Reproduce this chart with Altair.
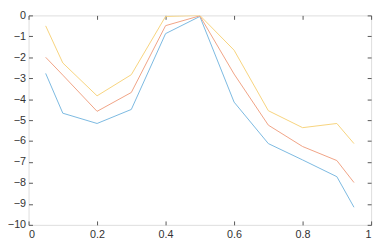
import altair as alt
import pandas as pd

xs = [0.05, 0.1, 0.2, 0.3, 0.4, 0.5, 0.6, 0.7, 0.8, 0.9, 0.95]
blue = [-2.77, -4.67, -5.16, -4.49, -0.87, -0.05, -4.14, -6.12, -6.9, -7.7, -9.16]
orange = [-2.0, -2.85, -4.58, -3.68, -0.49, -0.02, -2.8, -5.24, -6.26, -6.93, -7.98]
yellow = [-0.5, -2.27, -3.84, -2.83, -0.05, 0.0, -1.66, -4.55, -5.36, -5.16, -6.12]

series_names = ["s1", "s2", "s3"]
series_colors = ["#7ab8e0", "#f0a283", "#f7d37c"]

rows = []
for name, vals in zip(series_names, [blue, orange, yellow]):
    for x, v in zip(xs, vals):
        rows.append({"x": x, "y": v, "s": name})
df = pd.DataFrame(rows)

x_ticks = [0, 0.2, 0.4, 0.6, 0.8, 1]
y_ticks = list(range(-10, 1))

xscale = alt.Scale(domain=[0, 1], nice=False, zero=False)
yscale = alt.Scale(domain=[-10, 0], nice=False, zero=False)

common = dict(domain=False, grid=False, tickSize=4, offset=-4, tickColor="#555555",
              labelFont="Liberation Sans", labelFontSize=11, labelColor="#333333")

lines = alt.Chart(df).mark_line(strokeWidth=1, clip=True).encode(
    x=alt.X("x:Q", scale=xscale,
            axis=alt.Axis(values=x_ticks, title=None, labelPadding=4, format=".1~f", **common)),
    y=alt.Y("y:Q", scale=yscale,
            axis=alt.Axis(values=y_ticks, title=None, labelPadding=3, format="d", **common)),
    color=alt.Color("s:N", scale=alt.Scale(domain=series_names, range=series_colors), legend=None),
)

mirror = alt.Chart(df).mark_point(opacity=0).encode(
    x=alt.X("x:Q", scale=xscale,
            axis=alt.Axis(values=x_ticks, title=None, orient="top", labels=False, domain=False,
                          grid=False, tickSize=4, offset=-4, tickColor="#555555")),
    y=alt.Y("y:Q", scale=yscale,
            axis=alt.Axis(values=y_ticks, title=None, orient="right", labels=False, domain=False,
                          grid=False, tickSize=4, offset=-4, tickColor="#555555")),
)

chart = alt.layer(lines, mirror).resolve_axis(x="independent", y="independent").properties(
    width=350, height=214,
    autosize=alt.AutoSizeParams(type="none"),
    padding={"left": 21, "top": 5, "right": 5, "bottom": 17},
).configure_view(stroke="#8c8c8c", strokeWidth=1).configure(background="white")

chart.save("out.html", embed_options={"renderer": "svg", "actions": False})
